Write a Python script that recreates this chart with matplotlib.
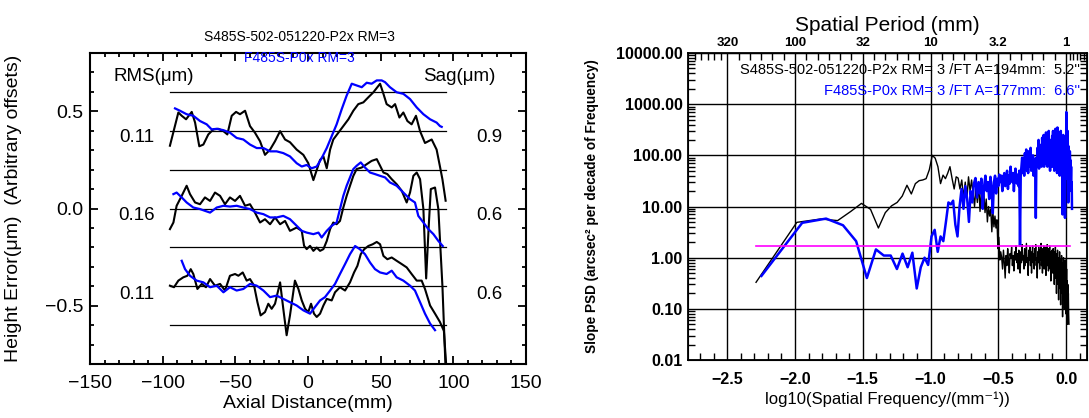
import numpy as np
import matplotlib
matplotlib.use("Agg")
import matplotlib.pyplot as plt
from matplotlib.ticker import MultipleLocator, FixedLocator, LogLocator, NullFormatter, FuncFormatter

plt.rcParams['font.family'] = ['Liberation Sans', 'DejaVu Sans']
plt.rcParams['axes.unicode_minus'] = True

# ---------------- Left panel data (Axial distance mm, height um with offsets) -------------
top_black_x = [-95.0, -89.2, -86.9, -83.9, -80.0, -77.7, -74.8, -72.0, -68.6, -65.1, -61.7, -58.2, -55.5,
               -52.5, -49.5, -46.8, -43.3, -39.9, -36.5, -33.0, -29.6, -26.1, -22.7, -19.2, -15.8, -12.4,
               -7.8, -3.2, 0.2, 3.7, 6.0, 8.3, 10.6, 12.9, 15.2, 17.4, 20.9, 24.3, 27.8, 31.2, 34.6, 38.1,
               41.5, 45.0, 49.6, 51.9, 54.1, 57.6, 59.9, 62.9, 65.6, 68.4, 71.3, 74.3, 77.1, 80.5, 85.1,
               88.5, 90.8, 92.5, 94.7]
top_black_y = [0.323, 0.494, 0.477, 0.459, 0.497, 0.442, 0.320, 0.329, 0.381, 0.407, 0.410, 0.398, 0.381,
               0.477, 0.497, 0.485, 0.503, 0.424, 0.390, 0.346, 0.276, 0.303, 0.346, 0.398, 0.355, 0.341,
               0.303, 0.276, 0.233, 0.146, 0.198, 0.250, 0.268, 0.207, 0.303, 0.355, 0.390, 0.424, 0.459,
               0.503, 0.537, 0.546, 0.572, 0.598, 0.642, 0.590, 0.537, 0.520, 0.537, 0.468, 0.494, 0.450,
               0.433, 0.477, 0.398, 0.337, 0.355, 0.303, 0.216, 0.15, 0.04]

top_blue_x = [-91.5, -88.1, -83.5, -78.9, -74.3, -69.7, -66.3, -62.8, -58.2, -53.7, -49.1, -44.5, -39.9,
              -35.3, -30.7, -26.1, -21.6, -17.0, -12.4, -7.8, -4.3, -0.9, 2.5, 6.0, 9.4, 12.9, 16.3, 19.7,
              23.2, 26.6, 30.1, 33.5, 37.0, 40.4, 43.8, 47.3, 50.7, 53.0, 56.4, 61.0, 65.6, 70.2, 74.8,
              79.4, 84.0, 88.5, 90.8, 92.0]
top_blue_y = [0.515, 0.503, 0.485, 0.477, 0.450, 0.433, 0.407, 0.410, 0.403, 0.390, 0.363, 0.355, 0.329,
              0.311, 0.311, 0.294, 0.294, 0.285, 0.268, 0.233, 0.216, 0.224, 0.207, 0.216, 0.259, 0.311,
              0.372, 0.433, 0.511, 0.581, 0.642, 0.633, 0.624, 0.647, 0.642, 0.659, 0.659, 0.650, 0.624,
              0.598, 0.590, 0.563, 0.520, 0.485, 0.459, 0.442, 0.424, 0.42]

mid_black_x = [-95.0, -92.6, -90.4, -86.9, -83.5, -81.2, -77.7, -74.3, -70.9, -67.4, -64.0, -60.5, -57.1,
               -53.7, -50.2, -46.8, -43.3, -39.9, -36.5, -33.0, -29.6, -26.1, -22.7, -19.2, -15.8, -12.4,
               -7.8, -4.3, -2.7, -0.9, 1.4, 3.7, 6.0, 8.3, 10.6, 12.9, 15.2, 17.4, 19.7, 22.0, 24.3, 26.6,
               28.9, 31.2, 33.5, 37.0, 40.4, 43.8, 47.3, 49.6, 51.9, 54.6, 57.6, 61.0, 64.5, 67.9, 70.2,
               72.5, 74.8, 77.1, 79.4, 81.3, 83.0, 84.5, 87.4, 89.7, 92.5, 94.8]
mid_black_y = [-0.106, -0.072, 0.014, 0.065, 0.117, 0.074, 0.031, 0.022, 0.057, 0.039, 0.082, 0.065, 0.022,
               0.057, 0.039, 0.065, 0.014, 0.022, -0.021, -0.072, -0.055, -0.081, -0.046, -0.081, -0.064,
               -0.115, -0.098, -0.115, -0.192, -0.209, -0.192, -0.218, -0.201, -0.218, -0.209, -0.167,
               -0.106, -0.072, -0.081, -0.064, 0.005, 0.065, 0.117, 0.168, 0.203, 0.211, 0.228, 0.245,
               0.254, 0.220, 0.185, 0.177, 0.151, 0.125, 0.091, 0.031, 0.082, 0.168, 0.185, 0.151, -0.003,
               -0.36, -0.10, 0.10, 0.108, -0.003, -0.40, -0.85]

mid_blue_x = [-92.6, -90.4, -86.9, -83.5, -78.9, -74.3, -70.9, -67.4, -62.8, -58.2, -53.7, -49.1, -44.5,
              -39.9, -35.3, -30.7, -26.1, -21.6, -17.0, -12.4, -7.8, -4.3, -0.9, 3.7, 7.2, 9.4, 12.9, 16.3,
              19.7, 22.0, 24.3, 26.6, 28.9, 31.2, 33.5, 36.3, 39.2, 42.7, 46.1, 49.6, 53.0, 56.4, 61.0,
              65.6, 70.2, 73.6, 75.9, 79.4, 82.8, 86.3, 89.7, 92.7]
mid_blue_y = [0.074, 0.082, 0.057, 0.031, 0.005, -0.003, -0.012, -0.021, 0.005, 0.014, 0.010, 0.014, 0.005,
              -0.003, -0.021, -0.029, -0.046, -0.046, -0.038, -0.055, -0.089, -0.115, -0.124, -0.132,
              -0.124, -0.149, -0.115, -0.089, -0.072, -0.003, 0.065, 0.117, 0.160, 0.203, 0.220, 0.237,
              0.211, 0.185, 0.177, 0.168, 0.160, 0.134, 0.117, 0.082, 0.048, 0.031, -0.038, -0.072,
              -0.106, -0.132, -0.167, -0.193]

bot_black_x = [-95.0, -92.2, -89.2, -85.8, -83.0, -80.7, -78.9, -76.1, -73.1, -70.2, -67.4, -64.0, -60.5,
               -57.1, -53.7, -50.2, -47.9, -44.9, -42.2, -39.9, -37.1, -34.8, -32.6, -29.6, -27.3, -25.0,
               -22.7, -19.2, -17.0, -14.7, -12.4, -9.0, -6.6, -4.3, -2.0, 0.2, 2.1, 4.1, 6.0, 8.3, 10.6,
               12.9, 16.3, 18.6, 22.0, 25.5, 28.9, 31.7, 34.0, 36.3, 38.6, 41.5, 44.5, 47.3, 49.6, 51.9,
               54.6, 57.6, 61.0, 64.5, 67.9, 71.3, 74.8, 78.2, 80.5, 84.0, 87.4, 90.8, 93.5, 95.5]
bot_black_y = [-0.397, -0.405, -0.371, -0.354, -0.346, -0.312, -0.337, -0.414, -0.388, -0.405, -0.363,
               -0.397, -0.388, -0.422, -0.346, -0.337, -0.346, -0.329, -0.371, -0.363, -0.397, -0.482,
               -0.550, -0.533, -0.490, -0.516, -0.490, -0.380, -0.516, -0.652, -0.550, -0.371, -0.414,
               -0.473, -0.516, -0.533, -0.490, -0.541, -0.558, -0.541, -0.499, -0.465, -0.473, -0.431,
               -0.405, -0.422, -0.380, -0.329, -0.295, -0.235, -0.210, -0.193, -0.184, -0.172, -0.184,
               -0.244, -0.261, -0.252, -0.269, -0.286, -0.303, -0.337, -0.371, -0.371, -0.414, -0.499,
               -0.541, -0.584, -0.63, -0.85]

bot_blue_x = [-86.9, -84.6, -81.2, -76.6, -72.0, -67.4, -62.8, -58.2, -53.7, -49.1, -44.5, -39.9, -35.3,
              -30.7, -26.1, -21.6, -17.0, -12.4, -7.8, -3.2, 1.4, 4.8, 8.3, 11.7, 15.2, 18.6, 22.0, 25.5,
              28.9, 32.4, 35.8, 39.2, 42.7, 46.1, 49.6, 54.1, 57.6, 61.0, 65.6, 70.2, 73.6, 77.1, 80.5,
              84.0, 87.4]
bot_blue_y = [-0.269, -0.312, -0.346, -0.371, -0.380, -0.405, -0.397, -0.431, -0.405, -0.422, -0.414,
              -0.388, -0.397, -0.422, -0.456, -0.448, -0.465, -0.482, -0.499, -0.524, -0.541, -0.507,
              -0.473, -0.456, -0.422, -0.388, -0.337, -0.286, -0.235, -0.193, -0.210, -0.235, -0.278,
              -0.312, -0.329, -0.337, -0.320, -0.354, -0.371, -0.397, -0.422, -0.482, -0.541, -0.592,
              -0.626]

ref_levels = [0.6, 0.4, 0.2, 0.0, -0.2, -0.4, -0.6]
ref_span = [-95, 95]
rms_labels = ['0.11', '0.16', '0.11']
sag_labels = ['0.9', '0.6', '0.6']
label_levels = [0.365, -0.037, -0.445]

# ---------------- Right panel data (slope PSD per frequency index k, f = k/A) -------------
A_black = 194.0
A_blue = 177.0
psd_black = [0.33, 4.9, 5.7, 5.3, 8.0, 11.5, 8.8, 3.8, 7.6, 10.3, 12.0, 16, 26, 17.6, 28, 32, 33, 35, 52,
             100, 88, 60, 28, 41, 35, 45, 60, 35, 22, 38,
             36, 22, 33, 15, 30, 14, 38, 20, 33, 18,
             10, 25, 12, 28, 8, 20, 9, 18, 7.6, 14,
             5, 10, 6.5, 9, 3.2, 8, 4, 6.5, 3.8, 5.5,
             1.5, 2.5, 0.9, 1.3,
             1.0, 0.6, 1.4, 0.8, 0.4, 1.1, 0.7, 1.5, 0.9, 0.5, 1.2, 1.0, 1.6, 0.7, 1.1, 0.55, 1.3, 0.9,
             1.7, 0.8, 1.2, 0.6, 1.4, 1.0, 0.5, 1.3, 0.8, 1.8, 0.9, 1.1, 0.6, 1.5, 0.7, 1.2, 1.9, 0.8,
             1.0, 0.45, 1.4, 0.9, 1.6, 0.7, 1.3, 0.5, 1.1, 1.7, 0.8, 1.2, 0.6, 1.5, 0.9, 1.8, 0.7, 1.0,
             0.4, 1.3, 0.8, 1.6, 1.1, 0.6, 1.4, 0.9, 1.9, 0.7, 1.2, 0.5, 1.5, 1.0, 1.7, 0.6, 1.1, 0.8,
             1.6, 0.45, 1.3, 0.9, 1.8, 0.7, 1.2, 0.55, 1.5, 1.0, 1.7, 0.6, 1.3, 0.35, 1.1, 0.8, 1.4,
             1.2, 0.5, 1.5, 0.7, 1.0, 0.3, 1.3, 0.6, 1.6, 0.4, 0.9, 0.2, 1.2, 0.5, 1.4, 0.3, 0.8, 0.15,
             1.0, 0.4, 1.3, 0.25, 0.7, 0.12, 0.9, 0.3, 1.1, 0.2, 0.6, 0.07, 0.8, 0.25, 1.0, 0.15, 0.5,
             0.1, 0.7, 0.2, 0.9, 0.08, 0.4, 0.15, 0.6, 0.1, 0.35, 0.05, 0.3, 0.12, 0.2, 0.08, 0.05]
psd_blue = [0.44, 4.8, 5.8, 4.3, 2.1, 0.4, 1.45, 1.1, 1.1, 0.6, 1.2, 0.65, 1.25, 0.25, 0.65, 1.0, 0.72,
            2.6, 3.5, 1.3, 2.6, 2.1, 5, 12, 11, 13, 4.4, 2.6, 10, 22, 9, 25, 14, 5, 20, 12, 28, 36, 15,
            30, 18, 35, 9, 25, 40, 20, 30, 14, 38, 22, 7.4, 30, 40, 18, 35, 25, 42,
            30, 40, 20, 35, 45, 25, 30, 50, 22, 40, 28, 60, 35, 30, 45, 20, 38, 55, 32, 28, 42, 25, 50,
            1.7, 40,
            60, 90, 45, 70, 40, 110, 55, 130, 50, 80, 45, 120, 60, 70, 140, 50, 90, 60, 100, 40, 75, 85,
            50, 6,
            90, 60, 140, 70, 200, 55, 100, 160, 70, 120, 60, 220, 80, 100, 250, 60, 90, 150, 70, 280, 80,
            120, 60, 180, 100, 300, 70, 150, 50, 200, 90, 130, 60, 240,
            80, 300, 60, 150, 50, 200, 90, 330, 60, 120, 250, 45, 350, 80, 160, 55, 280, 100, 40, 180,
            70, 300, 110, 45, 150, 80, 7, 120, 250, 50, 140, 70, 200, 6, 60,
            150, 50, 700, 80, 200, 35, 300, 90, 12, 150, 60, 100, 25, 120, 50, 80, 30, 60, 20, 30, 9]
threshold_level = 1.72
threshold_span = [-2.288, 0.03]
period_ticks = [-2.5, -2.0, -1.5, -1.0, -0.5, 0.0]
period_labels = ['320', '100', '32', '10', '3.2', '1']
legend_black = "S485S-502-051220-P2x RM= 3 /FT A=194mm:  5.2''"
legend_blue = "F485S-P0x RM= 3 /FT A=177mm:  6.6''"

BLUE = '#0000ff'
W, H = 1089, 418
fig = plt.figure(figsize=(W / 100, H / 100), dpi=100)

# ---------------- Left axes ----------------
axL = fig.add_axes([90 / W, 1 - 364 / H, (526 - 90) / W, (364 - 53) / H])
for lvl in ref_levels:
    axL.plot(ref_span, [lvl, lvl], color='black', lw=0.9)
axL.plot(top_black_x, top_black_y, color='black', lw=1.5)
axL.plot(mid_black_x, mid_black_y, color='black', lw=1.5)
axL.plot(bot_black_x, bot_black_y, color='black', lw=1.5)
axL.plot(top_blue_x, top_blue_y, color=BLUE, lw=1.6)
axL.plot(mid_blue_x, mid_blue_y, color=BLUE, lw=1.6)
axL.plot(bot_blue_x, bot_blue_y, color=BLUE, lw=1.6)
axL.set_xlim(-150, 150)
axL.set_ylim(-0.8, 0.8)
axL.xaxis.set_major_locator(MultipleLocator(50))
axL.xaxis.set_minor_locator(MultipleLocator(10))
axL.yaxis.set_major_locator(MultipleLocator(0.5))
axL.yaxis.set_minor_locator(MultipleLocator(0.1))
axL.yaxis.set_major_formatter(FuncFormatter(lambda v, p: f"{v:.1f}".replace('-', '\u2212')))
axL.tick_params(which='both', direction='in', top=True, right=True, width=1.3, labelsize=14)
axL.tick_params(which='major', length=6)
axL.tick_params(which='minor', length=3)
axL.tick_params(axis='x', pad=8)
axL.tick_params(axis='y', pad=5)
for s in axL.spines.values():
    s.set_linewidth(1.5)
axL.set_xlabel('Axial Distance(mm)', fontsize=14, labelpad=2)
axL.set_ylabel('Height Error(\u03bcm)  (Arbitrary offsets)', fontsize=14)
axL.yaxis.set_label_coords(-0.155, 0.5)
axL.text(-106, 0.68, 'RMS(\u03bcm)', fontsize=13.5, ha='center', va='center')
axL.text(104, 0.68, 'Sag(\u03bcm)', fontsize=13.5, ha='center', va='center')
for lab, sag, yy in zip(rms_labels, sag_labels, label_levels):
    axL.text(-118, yy, lab, fontsize=13.5, ha='center', va='center')
    axL.text(125, yy, sag, fontsize=13.5, ha='center', va='center')
fig.text(299 / W, 1 - 37 / H, 'S485S-502-051220-P2x RM=3', fontsize=10, ha='center', va='center')
fig.text(299 / W, 1 - 58 / H, 'F485S-P0x RM=3', fontsize=10, ha='center', va='center', color=BLUE)

# ---------------- Right axes ----------------
axR = fig.add_axes([688 / W, 1 - 360 / H, (1087 - 688) / W, (360 - 53) / H])
fb = np.log10(np.arange(1, len(psd_black) + 1) / A_black)
fl = np.log10(np.arange(1, len(psd_blue) + 1) / A_blue)
axR.set_yscale('log')
axR.set_xlim(-2.79, 0.155)
axR.set_ylim(0.01, 10000)
axR.grid(True, which='major', color='black', lw=1.0)
axR.plot(fb, psd_black, color='black', lw=1.0, zorder=3)
axR.plot(fl, psd_blue, color=BLUE, lw=1.8, zorder=4)
axR.plot(threshold_span, [threshold_level, threshold_level], color='#ff00ff', lw=1.2, zorder=5)
axR.xaxis.set_major_locator(FixedLocator(period_ticks))
axR.xaxis.set_minor_locator(MultipleLocator(0.1))
axR.xaxis.set_major_formatter(FuncFormatter(lambda v, p: f"{v:.1f}".replace('-', '\u2212')))
axR.yaxis.set_major_locator(LogLocator(base=10, numticks=10))
axR.yaxis.set_minor_locator(LogLocator(base=10, subs=np.arange(2, 10), numticks=10))
axR.yaxis.set_minor_formatter(NullFormatter())
axR.yaxis.set_major_formatter(FuncFormatter(lambda v, p: f"{v:.2f}"))
axR.tick_params(which='both', direction='in', right=True, top=False, width=1.0)
axR.tick_params(which='major', length=0)
axR.tick_params(axis='y', which='minor', length=5)
axR.tick_params(axis='x', which='minor', length=5)
axR.tick_params(axis='x', pad=9)
axR.tick_params(axis='y', pad=4)
for lab in axR.get_xticklabels() + axR.get_yticklabels():
    lab.set_fontweight('bold')
    lab.set_fontsize(11.5)
for s in axR.spines.values():
    s.set_linewidth(1.3)
axR.set_xlabel('log10(Spatial Frequency/(mm\u207b\u00b9))', fontsize=12, labelpad=3)
axR.set_ylabel('Slope PSD (arcsec\u00b2 per decade of Frequency)', fontsize=9.8, fontweight='bold')
axR.yaxis.set_label_coords(-0.223, 0.5)
axR.text(0.982, 0.945, legend_black, transform=axR.transAxes, fontsize=10.5, ha='right', va='center',
         color='black', zorder=6)
axR.text(0.982, 0.876, legend_blue, transform=axR.transAxes, fontsize=10.5, ha='right', va='center',
         color=BLUE, zorder=6)

axT = axR.twiny()
axT.set_xlim(axR.get_xlim())
axT.xaxis.set_major_locator(FixedLocator(period_ticks))
axT.set_xticklabels(period_labels, fontsize=9.5, fontweight='bold')
minor_top = []
for a, b in zip([-2.79] + period_ticks, period_ticks + [0.155]):
    for j in range(1, 6):
        v = a + (b - a) * j / 6 if a == -2.79 or b == 0.155 else a + 0.5 * j / 6
        minor_top.append(v)
axT.xaxis.set_minor_locator(FixedLocator([v for v in minor_top if -2.79 < v < 0.155]))
axT.tick_params(which='both', direction='in', width=1.0)
axT.tick_params(which='major', length=0, pad=3)
axT.tick_params(which='minor', length=5)
axT.set_xlabel('Spatial Period (mm)', fontsize=15, labelpad=4)

fig.savefig('out.png', dpi=100)
